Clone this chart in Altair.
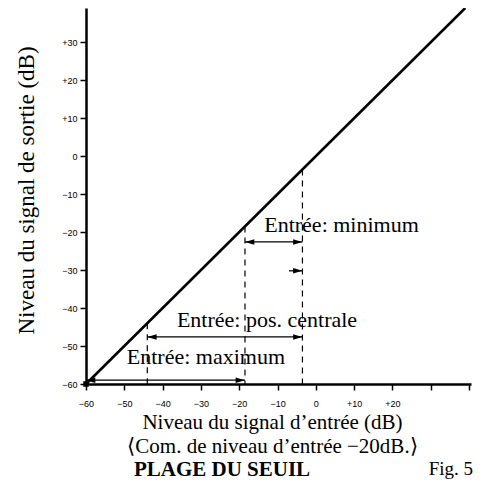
import altair as alt
import pandas as pd

# Transfer line (input level dB -> output level dB)
line_in = [-60, 39]
line_out = [-60, 39]

# Dashed vertical markers (input dB), from the line down to the x axis
dash_x = [-44, -18.5, -3.5]
dash_top = [-44, -18.5, -3.5]
dash_bottom = [-60, -60, -60]

# Range arrows
arrow_from = [-18.5, -44, -60, -7]
arrow_to = [-3.5, -3.5, -18.5, -3.5]
arrow_level = [-22.6, -47.6, -59, -30.2]
arrow_both = [True, True, True, False]

# Range labels
label_text = ["Entrée: minimum", "Entrée: pos. centrale", "Entrée: maximum"]
label_x = [6.7, -12.75, -28.7]
label_y = [-20.0, -45.0, -54.7]

x_ticks = [-60, -50, -40, -30, -20, -10, 0, 10, 20, 30, 40]
y_ticks = [-60, -50, -40, -30, -20, -10, 0, 10, 20, 30]

x_title = ["Niveau du signal d\u2019entrée (dB)", "\u27e8Com. de niveau d\u2019entrée  \u221220dB.\u27e9"]
y_title = "Niveau du signal de sortie (dB)"
caption = "PLAGE DU SEUIL"
fig_label = "Fig. 5"

x_label_expr = ("datum.value > 20 ? '' : datum.value > 0 ? '+' + datum.value : "
                "datum.value < 0 ? '\u2212' + abs(datum.value) : '0'")
y_label_expr = ("datum.value > 0 ? '+' + datum.value : "
                "datum.value < 0 ? '\u2212' + abs(datum.value) : '0'")

xs = alt.Scale(domain=[-60, 40.5], nice=False, zero=False)
ys = alt.Scale(domain=[-60, 39], nice=False, zero=False)

x_axis = alt.Axis(values=x_ticks, labelExpr=x_label_expr, labelFont="Liberation Sans",
                  labelFontSize=9, labelColor="black", labelPadding=9, tickSize=6,
                  tickWidth=1.5, tickColor="black", domainColor="black", domainWidth=2.5,
                  grid=False, title=x_title, titleFont="Liberation Serif", titleFontSize=21,
                  titleFontWeight="normal", titleColor="black", titleX=186, titleY=44,
                  titleAlign="center", titleBaseline="alphabetic", titleLineHeight=24,
                  labelFlush=False, labelOverlap=False)
y_axis = alt.Axis(values=y_ticks, labelExpr=y_label_expr, labelFont="Liberation Sans",
                  labelFontSize=9, labelColor="black", labelPadding=3, tickSize=6,
                  tickWidth=1.5, tickColor="black", domainColor="black", domainWidth=2.5,
                  grid=False, title=y_title, titleFont="Liberation Serif", titleFontSize=23,
                  titleFontWeight="normal", titleColor="black", titleX=-60, titleY=182,
                  titleAngle=270, titleAlign="center", titleBaseline="middle",
                  labelFlush=False, labelOverlap=False)


def X(field):
    return alt.X(field, type="quantitative", scale=xs, axis=x_axis)


def Y(field):
    return alt.Y(field, type="quantitative", scale=ys, axis=y_axis)


line_df = pd.DataFrame({"x": line_in, "y": line_out})
dash_df = pd.DataFrame({"x": dash_x, "y": dash_top, "y2": dash_bottom})
arrow_df = pd.DataFrame({"x": arrow_from, "x2": arrow_to, "y": arrow_level, "both": arrow_both})
right_heads = pd.DataFrame({"x": arrow_to, "y": arrow_level})
left_heads = arrow_df[arrow_df["both"]][["x", "y"]]
label_df = pd.DataFrame({"x": label_x, "y": label_y, "t": label_text})
corner_df = pd.DataFrame({"x": [-60], "y": [-60]})

diag = alt.Chart(line_df).mark_line(color="black", strokeWidth=2.6).encode(x=X("x"), y=Y("y"))

dashes = alt.Chart(dash_df).mark_rule(color="black", strokeWidth=1.2, strokeDash=[6, 5]).encode(
    x=X("x"), y=Y("y"), y2="y2")

shafts = alt.Chart(arrow_df).mark_rule(color="black", strokeWidth=1.3).encode(
    x=X("x"), x2="x2", y=Y("y"))

rhead = alt.Chart(right_heads).mark_point(
    shape="M0,0 L-2.2,-0.65 L-2.2,0.65 Z", filled=True, size=72, color="black", opacity=1,
    strokeWidth=0).encode(x=X("x"), y=Y("y"))
lhead = alt.Chart(left_heads).mark_point(
    shape="M0,0 L2.2,-0.65 L2.2,0.65 Z", filled=True, size=72, color="black", opacity=1,
    strokeWidth=0).encode(x=X("x"), y=Y("y"))

labels = alt.Chart(label_df).mark_text(
    font="Liberation Serif", fontSize=22, color="black", align="center",
    baseline="alphabetic").encode(x=X("x"), y=Y("y"), text="t")

corner = alt.Chart(corner_df).mark_square(size=30, color="black", opacity=1).encode(
    x=X("x"), y=Y("y"))

cap = alt.Chart(pd.DataFrame({"t": [caption]})).mark_text(
    font="Liberation Serif", fontSize=21, fontWeight="bold", color="black",
    align="center", baseline="alphabetic").encode(
    x=alt.value(136), y=alt.value(468), text="t")
fig = alt.Chart(pd.DataFrame({"t": [fig_label]})).mark_text(
    font="Liberation Serif", fontSize=19, color="black", align="right",
    baseline="alphabetic").encode(
    x=alt.value(387), y=alt.value(467), text="t")

chart = alt.layer(diag, dashes, shafts, rhead, lhead, labels, corner, cap, fig).properties(
    width=385, height=376,
    autosize=alt.AutoSizeParams(type="none"),
    padding={"left": 78, "top": 0, "right": 4, "bottom": 98},
    background="white",
).configure_view(stroke=None)

chart.save("out.html", embed_options={"renderer": "svg", "actions": False})
